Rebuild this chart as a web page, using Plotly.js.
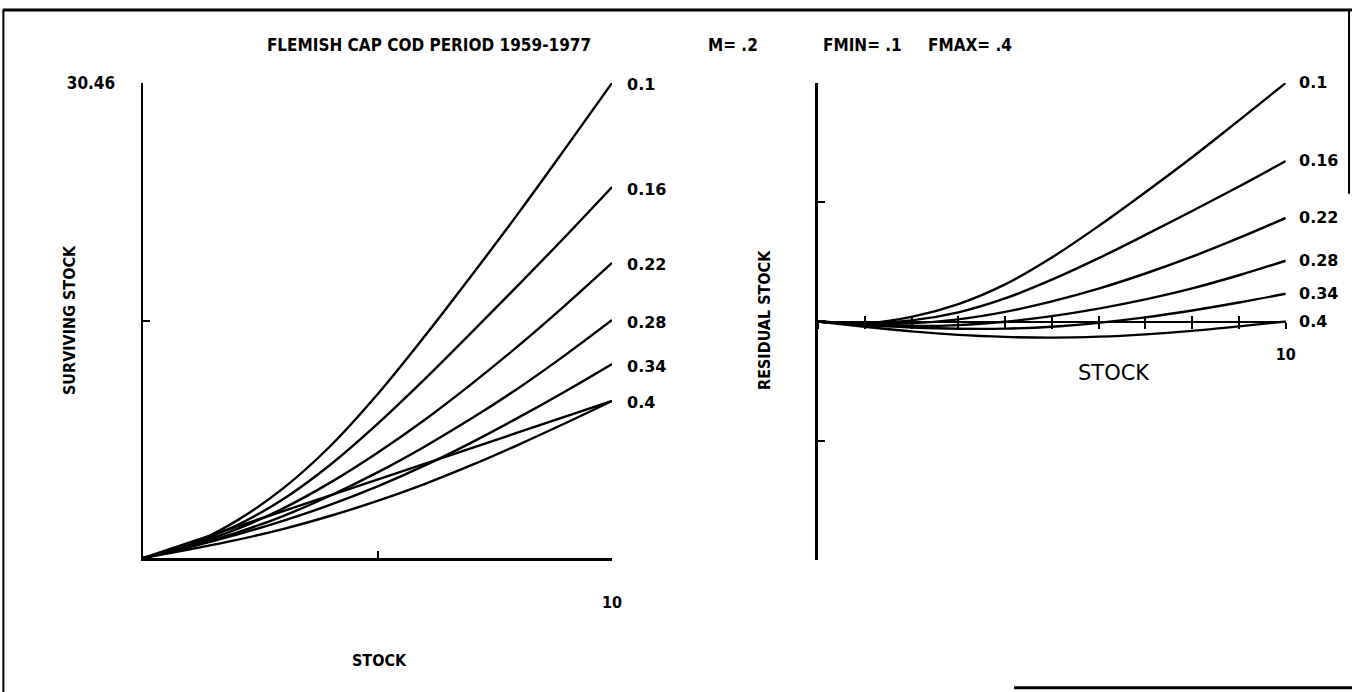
<!DOCTYPE html>
<html>
<head>
<meta charset="utf-8">
<script src="https://cdn.plot.ly/plotly-3.0.1.min.js"></script>
<style>
  html, body { margin: 0; padding: 0; background: #ffffff; }
  #chart { width: 1352px; height: 692px; }
</style>
</head>
<body>
<div id="chart"></div>
<script>
// ---------------- data ----------------
const stock = [0, 1, 2, 3, 4, 5, 6, 7, 8, 9, 10];
const fLabels = ['0.1', '0.16', '0.22', '0.28', '0.34', '0.4'];

// surviving stock (left panel)
const surv_010 = [0, 0.85, 2.40, 4.50, 7.20, 10.50, 14.20, 18.10, 22.10, 26.25, 30.46];
const surv_016 = [0, 0.85, 2.10, 3.80, 6.00, 8.60, 11.45, 14.45, 17.50, 20.60, 23.79];
const surv_022 = [0, 0.80, 1.85, 3.20, 4.85, 6.75, 8.85, 11.15, 13.60, 16.20, 18.92];
const surv_028 = [0, 0.75, 1.63, 2.71, 4.01, 5.49, 7.14, 8.94, 10.89, 13.01, 15.26];
const surv_034 = [0, 0.70, 1.50, 2.40, 3.42, 4.59, 5.92, 7.40, 9.00, 10.68, 12.44];
const surv_040 = [0, 0.56, 1.16, 1.87, 2.71, 3.66, 4.74, 5.95, 7.26, 8.64, 10.07];
const replaceX = [0, 10];
const replaceY = [0, 10.07];

// residual stock (right panel)
const resid_010 = [0, -0.16, 0.39, 1.48, 3.17, 5.47, 8.16, 11.05, 14.04, 17.19, 20.39];
const resid_016 = [0, -0.16, 0.09, 0.78, 1.97, 3.57, 5.41, 7.40, 9.44, 11.54, 13.72];
const resid_022 = [0, -0.21, -0.16, 0.18, 0.82, 1.72, 2.81, 4.10, 5.54, 7.14, 8.85];
const resid_028 = [0, -0.26, -0.38, -0.31, -0.02, 0.46, 1.10, 1.89, 2.83, 3.95, 5.19];
const resid_034 = [0, -0.31, -0.51, -0.62, -0.61, -0.45, -0.12, 0.35, 0.94, 1.62, 2.37];
const resid_040 = [0, -0.45, -0.85, -1.15, -1.32, -1.38, -1.30, -1.10, -0.80, -0.42, 0];

// axis ticks
const survMax = 30.46;
const leftYTickVals = [0, 15.23, 30.46];
const leftYTickText = ['', '', '30.46'];
const leftXTickVals = [0, 5, 10];
const leftXTickText = ['', '', '10'];
const rightXTickVals = [0, 1, 2, 3, 4, 5, 6, 7, 8, 9, 10];
const rightXTickText = ['', '', '', '', '', '', '', '', '', '', '10'];
const residMax = 20.39;
const rightYTickVals = [-20.39, -10.2, 0, 10.2, 20.39];

// ---------------- drawing ----------------
const survSeries = [surv_010, surv_016, surv_022, surv_028, surv_034, surv_040];
const residSeries = [resid_010, resid_016, resid_022, resid_028, resid_034, resid_040];

const condensed = '"DejaVu Sans Condensed", "Liberation Sans Narrow", "Arial Narrow", "DejaVu Sans", sans-serif';
const plain = '"DejaVu Sans", "Liberation Sans", Arial, sans-serif';
const curveLine = { color: '#000000', width: 2.4, shape: 'spline', smoothing: 1 };

const traces = [];
survSeries.forEach((ys, i) => {
  traces.push({ type: 'scatter', mode: 'lines', x: stock, y: ys, xaxis: 'x', yaxis: 'y',
    line: curveLine, name: 'F=' + fLabels[i], hoverinfo: 'x+y+name' });
});
traces.push({ type: 'scatter', mode: 'lines', x: replaceX, y: replaceY, xaxis: 'x', yaxis: 'y',
  line: { color: '#000000', width: 2.4 }, name: 'replacement', hoverinfo: 'x+y' });
residSeries.forEach((ys, i) => {
  traces.push({ type: 'scatter', mode: 'lines', x: stock, y: ys, xaxis: 'x2', yaxis: 'y2',
    line: curveLine, name: 'F=' + fLabels[i], hoverinfo: 'x+y+name' });
});

const annotations = [];
survSeries.forEach((ys, i) => {
  annotations.push({ xref: 'x', yref: 'y', x: stock[stock.length - 1], y: ys[ys.length - 1],
    text: fLabels[i], showarrow: false, xanchor: 'left', yanchor: 'middle', xshift: 13, yshift: -2,
    font: { family: plain, size: 16, color: '#000', weight: 'bold' } });
});
residSeries.forEach((ys, i) => {
  annotations.push({ xref: 'x2', yref: 'y2', x: stock[stock.length - 1], y: ys[ys.length - 1],
    text: fLabels[i], showarrow: false, xanchor: 'left', yanchor: 'middle', xshift: 11,
    font: { family: plain, size: 16, color: '#000', weight: 'bold' } });
});
const titleFont = { family: condensed, size: 17, color: '#000', weight: 'bold' };
annotations.push(
  { xref: 'paper', yref: 'paper', x: 0.542, y: 0.935, text: 'M= .2', showarrow: false, xanchor: 'center', yanchor: 'middle', font: titleFont },
  { xref: 'paper', yref: 'paper', x: 0.6376, y: 0.935, text: 'FMIN= .1', showarrow: false, xanchor: 'center', yanchor: 'middle', font: titleFont },
  { xref: 'paper', yref: 'paper', x: 0.7175, y: 0.935, text: 'FMAX= .4', showarrow: false, xanchor: 'center', yanchor: 'middle', font: titleFont },
  { xref: 'paper', yref: 'paper', x: 0.0518, y: 0.5376, text: 'SURVIVING STOCK', textangle: -90, showarrow: false,
    xanchor: 'center', yanchor: 'middle', font: { family: condensed, size: 16, color: '#000', weight: 'bold' } },
  { xref: 'paper', yref: 'paper', x: 0.281, y: 0.0462, text: 'STOCK', showarrow: false,
    xanchor: 'center', yanchor: 'middle', font: { family: condensed, size: 16, color: '#000', weight: 'bold' } },
  { xref: 'paper', yref: 'paper', x: 0.5658, y: 0.5376, text: 'RESIDUAL STOCK', textangle: -90, showarrow: false,
    xanchor: 'center', yanchor: 'middle', font: { family: condensed, size: 16, color: '#000', weight: 'bold' } },
  { xref: 'paper', yref: 'paper', x: 0.824, y: 0.461, text: 'STOCK', showarrow: false,
    xanchor: 'center', yanchor: 'middle', font: { family: plain, size: 21, color: '#000' } }
);

const axisCommon = { showgrid: false, zeroline: false, showline: true, linecolor: '#000', linewidth: 2.5,
  tickcolor: '#000', tickwidth: 2, tickmode: 'array', fixedrange: true };

const layout = {
  width: 1352, height: 692,
  margin: { l: 0, r: 0, t: 0, b: 0 },
  paper_bgcolor: '#ffffff', plot_bgcolor: '#ffffff',
  showlegend: false,
  title: { text: 'FLEMISH CAP COD PERIOD 1959-1977', x: 0.3173, xanchor: 'center', xref: 'paper',
    y: 0.935, yanchor: 'middle', yref: 'paper', font: titleFont },
  xaxis: Object.assign({}, axisCommon, { domain: [0.1058, 0.4527], range: [0, 10], anchor: 'y',
    ticks: 'inside', ticklen: 7, tickvals: leftXTickVals, ticktext: leftXTickText, ticklabelstandoff: 28,
    tickfont: { family: condensed, size: 16, color: '#000', weight: 'bold' } }),
  yaxis: Object.assign({}, axisCommon, { domain: [0.1936, 0.8801], range: [0, survMax], anchor: 'x',
    ticks: 'inside', ticklen: 7, tickvals: leftYTickVals, ticktext: leftYTickText, ticklabelstandoff: 22,
    tickfont: { family: condensed, size: 17, color: '#000', weight: 'bold' } }),
  xaxis2: Object.assign({}, axisCommon, { domain: [0.605, 0.951], range: [0, 10], anchor: 'free',
    position: 0.5354, ticks: 'outside', ticklen: 6, tickvals: rightXTickVals, ticktext: rightXTickText,
    ticklabelstandoff: 12, tickfont: { family: condensed, size: 16, color: '#000', weight: 'bold' } }),
  xaxis3: { overlaying: 'x2', range: [0, 10], anchor: 'free', position: 0.5354, showline: false,
    showgrid: false, zeroline: false, ticks: 'inside', ticklen: 6, tickwidth: 2, tickcolor: '#000',
    tickmode: 'array', tickvals: rightXTickVals, showticklabels: false, fixedrange: true },
  yaxis2: Object.assign({}, axisCommon, { domain: [0.1908, 0.8801], range: [-residMax, residMax], anchor: 'x2',
    ticks: 'inside', ticklen: 7, tickvals: rightYTickVals, showticklabels: false }),
  annotations: annotations,
  shapes: [
    { type: 'line', xref: 'paper', yref: 'paper', x0: 0.002, x1: 1, y0: 0.9855, y1: 0.9855, line: { color: '#000', width: 3 } },
    { type: 'line', xref: 'paper', yref: 'paper', x0: 0.0025, x1: 0.0025, y0: 0, y1: 0.9855, line: { color: '#000', width: 2 } },
    { type: 'line', xref: 'paper', yref: 'paper', x0: 0.9978, x1: 0.9978, y0: 0.72, y1: 0.9855, line: { color: '#000', width: 2 } },
    { type: 'line', xref: 'paper', yref: 'paper', x0: 0.75, x1: 1, y0: 0.006, y1: 0.006, line: { color: '#000', width: 3 } }
  ]
};

// invisible trace so that xaxis3 exists
traces.push({ type: 'scatter', mode: 'lines', x: [0], y: [0], xaxis: 'x3', yaxis: 'y2',
  line: { color: 'rgba(0,0,0,0)' }, hoverinfo: 'skip', showlegend: false });

Plotly.newPlot('chart', traces, layout, { displayModeBar: false, staticPlot: true });
</script>
</body>
</html>
